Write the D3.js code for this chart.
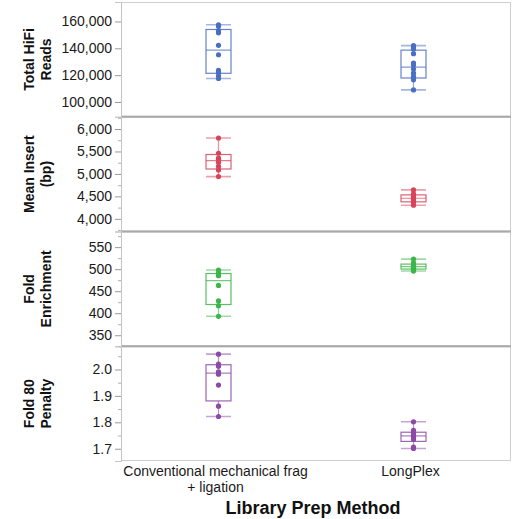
<!DOCTYPE html>
<html>
<head>
<meta charset="utf-8">
<script src="https://cdn.jsdelivr.net/npm/d3@7"></script>
<style>
  html, body { margin: 0; padding: 0; background: #fff; }
  svg { display: block; font-family: "Liberation Sans", Arial, Helvetica, sans-serif; }
</style>
</head>
<body>
<svg id="chart" width="516" height="519"></svg>
<script>
// ---------------- data ----------------
const categories = ["Conventional mechanical frag + ligation", "LongPlex"];
const categoryLines = [["Conventional mechanical frag", "+ ligation"], ["LongPlex"]];
const xTitle = "Library Prep Method";

const metricTitles = [["Total HiFi", "Reads"], ["Mean Insert", "(bp)"], ["Fold", "Enrichment"], ["Fold 80", "Penalty"]];

const hifiConv = [117500, 119500, 122000, 123500, 135200, 142200, 151500, 153200, 156500, 157500];
const hifiLong = [109000, 116500, 117500, 119000, 121500, 124500, 127500, 129000, 136000, 139500, 141000, 142000];

const insertConv = [4940, 5090, 5170, 5260, 5330, 5350, 5460, 5800];
const insertLong = [4302, 4370, 4381, 4420, 4450, 4466, 4500, 4525, 4557, 4644];

const foldConv = [393, 417, 428, 463, 485, 487, 491, 498];
const foldLong = [495.7, 499, 500.6, 502, 504.5, 506.7, 508.5, 510.5, 514.5, 522.8];

const penaltyConv = [1.822, 1.861, 1.941, 1.982, 1.991, 2.012, 2.020, 2.058];
const penaltyLong = [1.701, 1.706, 1.735, 1.742, 1.746, 1.752, 1.757, 1.760, 1.770, 1.802];

const hifiTicks = [100000, 120000, 140000, 160000];
const insertTicks = [4000, 4500, 5000, 5500, 6000];
const foldTicks = [350, 400, 450, 500, 550];
const penaltyTicks = [1.7, 1.8, 1.9, 2.0];

const hifiDomain = [89000, 174500];
const insertDomain = [3718, 6273];
const foldDomain = [325, 585.5];
const penaltyDomain = [1.6535, 2.088];

const hifiMinor = [];
const insertMinor = [3750, 4250, 4750, 5250, 5750, 6250];
const foldMinor = [325, 375, 425, 475, 525, 575];
const penaltyMinor = [1.75, 1.85, 1.95, 2.05];

const colors = ["#4a6fc2", "#d8445a", "#3db54a", "#8b4aa6"];

const panels = [
  { title: metricTitles[0], values: [hifiConv, hifiLong], ticks: hifiTicks, minor: hifiMinor, domain: hifiDomain, fmt: d3.format(",") },
  { title: metricTitles[1], values: [insertConv, insertLong], ticks: insertTicks, minor: insertMinor, domain: insertDomain, fmt: d3.format(",") },
  { title: metricTitles[2], values: [foldConv, foldLong], ticks: foldTicks, minor: foldMinor, domain: foldDomain, fmt: d3.format("d") },
  { title: metricTitles[3], values: [penaltyConv, penaltyLong], ticks: penaltyTicks, minor: penaltyMinor, domain: penaltyDomain, fmt: d3.format(".1f") }
];

// ---------------- layout ----------------
const svg = d3.select("#chart");
const plotLeft = 121, plotRight = 511, plotTop = 2, plotBottom = 461;
const ph = (plotBottom - plotTop) / panels.length;

const x = d3.scaleBand().domain(categories).range([plotLeft, plotRight]).paddingInner(0).paddingOuter(0);
const boxW = 25;

function quant(sorted, p) {
  const n = sorted.length, h = (n + 1) * p, lo = Math.floor(h);
  if (lo < 1) return sorted[0];
  if (lo >= n) return sorted[n - 1];
  return sorted[lo - 1] + (h - lo) * (sorted[lo] - sorted[lo - 1]);
}
function stats(vals) {
  const s = vals.slice().sort(d3.ascending);
  const q1 = quant(s, 0.25), med = quant(s, 0.5), q3 = quant(s, 0.75);
  const iqr = q3 - q1;
  const lo = d3.min(s.filter(v => v >= q1 - 1.5 * iqr));
  const hi = d3.max(s.filter(v => v <= q3 + 1.5 * iqr));
  return { q1, med, q3, lo, hi };
}

panels.forEach((p, i) => {
  const y0 = plotTop + i * ph, y1 = y0 + ph;
  const y = d3.scaleLinear().domain(p.domain).range([y1, y0]);
  const g = svg.append("g");
  const color = colors[i];

  const clipId = "clip" + i;
  svg.append("clipPath").attr("id", clipId).append("rect")
    .attr("x", plotLeft).attr("y", y0).attr("width", plotRight - plotLeft).attr("height", ph);

  // frame
  g.append("rect").attr("x", plotLeft + 0.5).attr("y", y0 + 0.5)
    .attr("width", plotRight - plotLeft - 1).attr("height", ph - 1)
    .attr("fill", "none").attr("stroke", "#cfcfcf").attr("stroke-width", 1);

  // axis major ticks
  const axis = d3.axisLeft(y).tickValues(p.ticks).tickFormat(p.fmt).tickSize(6).tickPadding(3);
  const ag = g.append("g").attr("transform", `translate(${plotLeft},0)`).call(axis);
  ag.select(".domain").attr("stroke", "#c4c4c4");
  ag.selectAll(".tick line").attr("stroke", "#9a9a9a");
  ag.selectAll(".tick text").attr("font-size", 14).attr("fill", "#1a1a1a")
    .attr("font-family", "'Liberation Sans', Arial, Helvetica, sans-serif");
  // minor ticks
  const mg = g.append("g").attr("transform", `translate(${plotLeft},0)`)
    .call(d3.axisLeft(y).tickValues(p.minor.filter(v => v >= p.domain[0] && v <= p.domain[1])).tickFormat("").tickSize(3));
  mg.select(".domain").remove();
  mg.selectAll(".tick line").attr("stroke", "#b0b0b0");

  // y title
  const cy = (y0 + y1) / 2;
  const tt = g.append("text")
    .attr("transform", `translate(36,${cy}) rotate(-90)`)
    .attr("text-anchor", "middle")
    .attr("font-size", 14).attr("font-weight", "bold").attr("fill", "#111");
  p.title.forEach((line, k) => {
    tt.append("tspan").attr("x", 0).attr("dy", k === 0 ? "-0.15em" : "1.2em").text(line);
  });

  // boxes
  const bg = g.append("g").attr("clip-path", `url(#${clipId})`);
  p.values.forEach((vals, j) => {
    const cx = x(categories[j]) + x.bandwidth() / 2;
    const st = stats(vals);
    bg.append("line").attr("x1", cx).attr("x2", cx).attr("y1", y(st.q3)).attr("y2", y(st.hi))
      .attr("stroke", color).attr("stroke-width", 1.2).attr("stroke-opacity", 0.6);
    bg.append("line").attr("x1", cx).attr("x2", cx).attr("y1", y(st.q1)).attr("y2", y(st.lo))
      .attr("stroke", color).attr("stroke-width", 1.2).attr("stroke-opacity", 0.6);
    [st.hi, st.lo].forEach(v => {
      bg.append("line").attr("x1", cx - boxW / 2).attr("x2", cx + boxW / 2).attr("y1", y(v)).attr("y2", y(v))
        .attr("stroke", color).attr("stroke-width", 1.6).attr("stroke-opacity", 0.5);
    });
    bg.append("rect").attr("x", cx - boxW / 2).attr("y", y(st.q3))
      .attr("width", boxW).attr("height", Math.max(0, y(st.q1) - y(st.q3)))
      .attr("fill", "none").attr("stroke", color).attr("stroke-width", 1.2).attr("stroke-opacity", 0.85);
    bg.append("line").attr("x1", cx - boxW / 2).attr("x2", cx + boxW / 2).attr("y1", y(st.med)).attr("y2", y(st.med))
      .attr("stroke", color).attr("stroke-width", 1.2).attr("stroke-opacity", 0.7);
    bg.selectAll(null).data(vals).enter().append("circle")
      .attr("cx", cx).attr("cy", d => y(d)).attr("r", 2.6)
      .attr("fill", color);
  });
});

// separators between panels
for (let i = 1; i < panels.length; i++) {
  const yy = plotTop + i * ph;
  svg.append("line").attr("x1", plotLeft).attr("x2", plotRight).attr("y1", yy).attr("y2", yy)
    .attr("stroke", "#a9a9a9").attr("stroke-width", 2);
}
svg.append("line").attr("x1", plotLeft + 0.5).attr("x2", plotLeft + 0.5).attr("y1", plotTop).attr("y2", plotBottom)
  .attr("stroke", "#c4c4c4").attr("stroke-width", 1);

// x category labels
categories.forEach((c, j) => {
  const cx = x(c) + x.bandwidth() / 2 - 3;
  const t = svg.append("text").attr("text-anchor", "middle").attr("font-size", 14).attr("fill", "#1a1a1a");
  categoryLines[j].forEach((line, k) => {
    t.append("tspan").attr("x", cx).attr("y", 476 + k * 16).text(line);
  });
});

// x title
svg.append("text").attr("x", (plotLeft + plotRight) / 2 - 3).attr("y", 514)
  .attr("text-anchor", "middle").attr("font-size", 18).attr("font-weight", "bold").attr("fill", "#111")
  .text(xTitle);
</script>
</body>
</html>
